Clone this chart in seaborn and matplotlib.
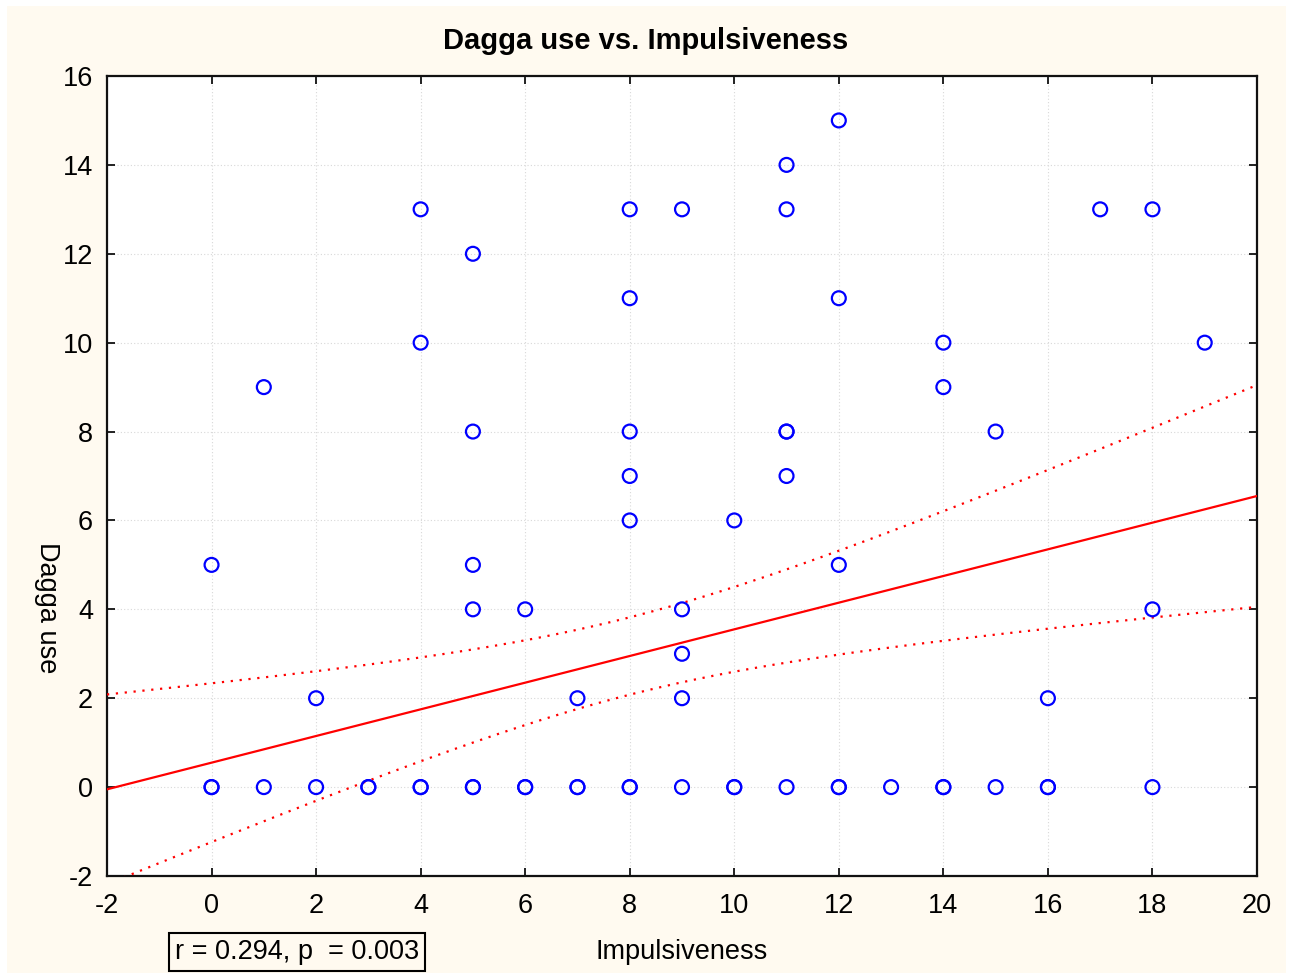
import numpy as np
import pandas as pd
import matplotlib
matplotlib.use("Agg")
import matplotlib.pyplot as plt
from matplotlib.patches import Rectangle
import seaborn as sns

# ---- data ----
impulsiveness = [0, 1, 2, 4, 4, 5, 5, 5, 5, 6, 7, 8, 8, 8, 8, 8, 9, 9, 9, 9, 10,
                 11, 11, 11, 11, 11, 12, 12, 12, 14, 14, 15, 16, 17, 18, 18, 19,
                 0, 0, 1, 2, 3, 3, 4, 4, 5, 5, 6, 6, 7, 7, 8, 8, 9, 10, 10, 11,
                 12, 12, 13, 14, 14, 15, 16, 16, 18]
dagga_use = [5, 9, 2, 13, 10, 12, 8, 5, 4, 4, 2, 13, 11, 8, 7, 6, 13, 4, 3, 2, 6,
             14, 13, 8, 8, 7, 15, 11, 5, 10, 9, 8, 2, 13, 13, 4, 10,
             0, 0, 0, 0, 0, 0, 0, 0, 0, 0, 0, 0, 0, 0, 0, 0, 0, 0, 0, 0,
             0, 0, 0, 0, 0, 0, 0, 0, 0]

# fitted line and 95% confidence band
fit_intercept = 0.55
fit_slope = 0.30
band_center_x = 8.0
band_min_halfwidth = 0.87
band_growth = 0.038

x_ticks = [-2, 0, 2, 4, 6, 8, 10, 12, 14, 16, 18, 20]
y_ticks = [-2, 0, 2, 4, 6, 8, 10, 12, 14, 16]
title = "Dagga use vs. Impulsiveness"
x_label = "Impulsiveness"
y_label = "Dagga use"
stats_text = "r = 0.294, p  = 0.003"

# ---- figure ----
sns.set_theme(style="white")
plt.rcParams["font.family"] = ["Liberation Sans", "DejaVu Sans"]

W, H = 1292, 973
FS = 19.5
fig = plt.figure(figsize=(W / 100, H / 100), dpi=100, facecolor="white")
cream = "#FFFAF0"
fig.patches.append(Rectangle((7 / W, 0), (1286 - 7) / W, 1 - 6 / H,
                             transform=fig.transFigure, facecolor=cream,
                             edgecolor="none", zorder=-10))

ax = fig.add_axes([107 / W, 1 - 876 / H, (1257 - 107) / W, (876 - 76) / H])
ax.set_facecolor("white")

df = pd.DataFrame({"Impulsiveness": impulsiveness, "Dagga use": dagga_use})

xs = np.linspace(x_ticks[0], x_ticks[-1], 300)
fit = fit_intercept + fit_slope * xs
half = np.sqrt(band_min_halfwidth ** 2 + band_growth * (xs - band_center_x) ** 2)
lines = pd.DataFrame({"x": xs, "fit": fit, "lo": fit - half, "hi": fit + half})

sns.lineplot(data=lines, x="x", y="fit", ax=ax, color="#FF0000", lw=1.6, zorder=3)
sns.lineplot(data=lines, x="x", y="hi", ax=ax, color="#FF0000", lw=1.6,
             linestyle=(0, (1, 3)), zorder=3)
sns.lineplot(data=lines, x="x", y="lo", ax=ax, color="#FF0000", lw=1.6,
             linestyle=(0, (1, 3)), zorder=3)

sns.scatterplot(data=df, x="Impulsiveness", y="Dagga use", ax=ax, marker="o",
                s=100, facecolors="none", edgecolor="#0000FF", linewidth=1.6,
                zorder=4)

ax.set_xlim(x_ticks[0], x_ticks[-1])
ax.set_ylim(y_ticks[0], y_ticks[-1])
ax.set_xticks(x_ticks)
ax.set_yticks(y_ticks)
ax.set_xticklabels([str(t) for t in x_ticks])
ax.set_yticklabels([str(t) for t in y_ticks])
ax.grid(True, linestyle=(0, (1, 2)), color="#D8D8D8", lw=0.8)
ax.set_axisbelow(True)
for sp in ax.spines.values():
    sp.set_visible(True)
    sp.set_color("#111111")
    sp.set_linewidth(1.6)
ax.tick_params(axis="both", which="major", direction="in", length=6, width=1.3,
               color="#111111", labelsize=FS, labelcolor="black",
               top=True, right=True, bottom=True, left=True)
ax.tick_params(axis="x", pad=12)
ax.tick_params(axis="y", pad=10)

ax.set_xlabel(x_label, fontsize=FS, color="black")
ax.xaxis.set_label_coords(0.5, -(952 - 876) / 800)
ax.xaxis.label.set_va("center")
ax.set_ylabel(y_label, fontsize=FS, color="black", rotation=270)
ax.yaxis.set_label_coords((47 - 107) / 1150, (876 - 608) / 800)
ax.yaxis.label.set_va("center")
ax.yaxis.label.set_ha("center")

fig.text(0.5, 1 - 41 / H, title, fontsize=21, fontweight="bold",
         ha="center", va="center", color="black")

fig.text(175 / W, 1 - 952 / H, stats_text, fontsize=FS, ha="left", va="center",
         color="black",
         bbox=dict(boxstyle="square,pad=0.22", facecolor=cream,
                   edgecolor="black", linewidth=1.5))

fig.savefig("out.png", dpi=100, facecolor="white")
